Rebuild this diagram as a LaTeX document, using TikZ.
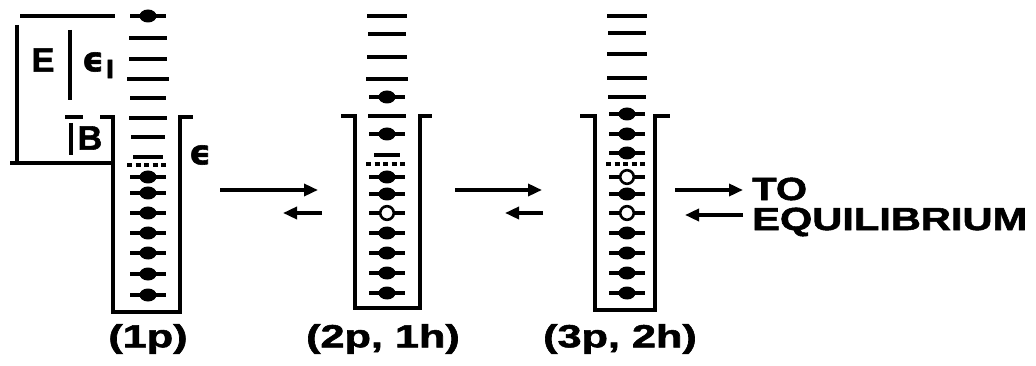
\documentclass[tikz,border=0pt]{standalone}
\usepackage{fontspec}
\setmainfont{Liberation Sans}
\newfontfamily\hv[FakeBold=1.6]{Liberation Sans Bold}
\newfontfamily\gk[FakeBold=1.6]{DejaVu Sans Bold}
\usepackage{graphicx}
\usetikzlibrary{arrows.meta}
\tikzset{
  lvl/.style={line width=3.3pt},
  dashlvl/.style={line width=3.3pt, dash pattern=on 5pt off 3.5pt},
  wall/.style={line width=3.6pt, line join=miter},
  holeshape/.style={fill=white, draw=black, line width=2.6pt},
  arr/.style={line width=3.4pt, -{Triangle[length=14pt,width=12pt]}},
  lab/.style={font=\hv\fontsize{32}{34}\selectfont, inner sep=0pt},
}
\newcommand\lev[3]{\draw[lvl] ({#1-#3/2},#2) -- ({#1+#3/2},#2);}
\newcommand\dlev[2]{\draw[dashlvl] ({#1-21},#2) -- ({#1+21},#2);}
\newcommand\elec[2]{\draw[lvl] ({#1-18},#2) -- ({#1+18},#2); \fill (#1,#2) ellipse [x radius=8.5pt, y radius=6.5pt];}
\newcommand\hol[2]{\draw[lvl] ({#1-18},#2) -- ({#1-6},#2) ({#1+6},#2) -- ({#1+18},#2); \draw[holeshape] (#1,#2) circle [radius=6.8pt];}
\begin{document}
\begin{tikzpicture}[x=1pt,y=-1pt]
\useasboundingbox (0,0) rectangle (1036,366);

% ---------- left energy brackets ----------
\draw[wall] (20,16) -- (115,16);
\draw[wall] (17,25) -- (17,163);
\draw[wall] (10,163) -- (113,163);
\draw[wall] (70,30) -- (70,100);
\node[lab] (E) at (43,60) {\fontsize{34}{36}\selectfont E};
\node[inner sep=0pt] (eps1) at (93,62) {\gk\fontsize{34}{36}\selectfont ϵ};
\node[inner sep=0pt] (eps1sub) at (110,69) {\gk\fontsize{24}{26}\selectfont l};
\draw[wall] (65,117) -- (83,117);
\draw[wall] (71,123) -- (71,155);
\node[lab] (B) at (90,138) {\fontsize{34}{36}\selectfont B};
\node[inner sep=0pt] (eps) at (200,155) {\gk\fontsize{34}{36}\selectfont ϵ};

% ---------- column 1 (1p) ----------
\draw[wall] (100,117) -- (113,117) -- (113,312) -- (180,312) -- (180,117) -- (193,117);
\elec{148}{16}
\lev{148}{38}{38} \lev{148}{59}{38} \lev{148}{79}{42} \lev{148}{98}{36}
\lev{148}{118}{38} \lev{148}{137}{34} \lev{148}{157}{30}
\dlev{148}{165}
\foreach \yy in {177,193,213,233,253,274,295} {\elec{148}{\yy}}
\node[lab] (L1) at (148,339) {\scalebox{1.35}[1]{(1p)}};

% ---------- column 2 (2p,1h) ----------
\draw[wall] (341,116) -- (355,116) -- (355,308) -- (420,308) -- (420,116) -- (432,116);
\lev{387}{16}{40} \lev{387}{34}{38} \lev{387}{57}{40} \lev{387}{79}{42}
\elec{387}{97}
\lev{387}{116}{38}
\elec{387}{134}
\lev{387}{155}{26}
\dlev{387}{164}
\elec{387}{177} \elec{387}{194} \hol{387}{213}
\foreach \yy in {233,253,273,293} {\elec{387}{\yy}}
\node[lab] (L2) at (383,339) {\scalebox{1.35}[1]{(2p, 1h)}};

% ---------- column 3 (3p,2h) ----------
\draw[wall] (580,116) -- (595,116) -- (595,310) -- (655,310) -- (655,116) -- (670,116);
\lev{627}{16}{40} \lev{627}{33}{38} \lev{627}{54}{40} \lev{627}{78}{40} \lev{627}{97}{38}
\elec{627}{114} \elec{627}{134} \elec{627}{153}
\dlev{627}{164}
\hol{627}{177} \elec{627}{194} \hol{627}{213}
\foreach \yy in {233,253,273,293} {\elec{627}{\yy}}
\node[lab] (L3) at (620,339) {\scalebox{1.35}[1]{(3p, 2h)}};

% ---------- arrows ----------
\coordinate (a1s) at (220,190); \coordinate (a1e) at (318,190);
\coordinate (b1s) at (322,213); \coordinate (b1e) at (283,213);
\coordinate (a2s) at (455,190); \coordinate (a2e) at (542,190);
\coordinate (b2s) at (543,213); \coordinate (b2e) at (505,213);
\coordinate (a3s) at (675,190); \coordinate (a3e) at (743,190);
\coordinate (b3s) at (743,215); \coordinate (b3e) at (685,215);
\draw[arr] (a1s) -- (a1e); \draw[arr] (b1s) -- (b1e);
\draw[arr] (a2s) -- (a2e); \draw[arr] (b2s) -- (b2e);
\draw[arr] (a3s) -- (a3e); \draw[arr] (b3s) -- (b3e);

\node[lab, anchor=west] (TO) at (752,189) {\scalebox{1.25}[1]{TO}};
\node[lab, anchor=west] (EQ) at (752,222) {\scalebox{1.3}[1]{EQUILIBRIUM}};
\end{tikzpicture}
\end{document}
